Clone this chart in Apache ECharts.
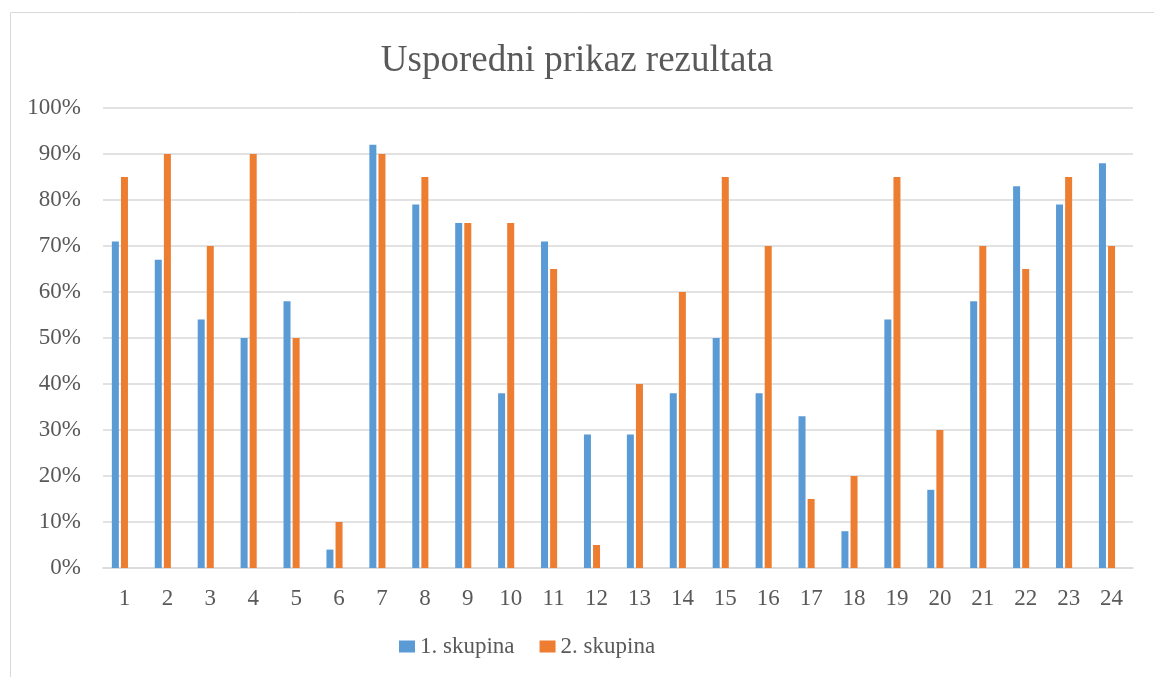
<!DOCTYPE html>
<html>
<head>
<meta charset="utf-8">
<script src="https://cdn.jsdelivr.net/npm/echarts@6/dist/echarts.min.js"></script>
<style>
  html, body { margin: 0; padding: 0; background: #fff; }
  #chart { width: 1154px; height: 677px; }
</style>
</head>
<body>
<div id="chart"></div>
<script>
// podaci
var categories = ['1','2','3','4','5','6','7','8','9','10','11','12','13','14','15','16','17','18','19','20','21','22','23','24'];
var skupina1 = [71, 67, 54, 50, 58, 4, 92, 79, 75, 38, 71, 29, 29, 38, 50, 38, 33, 8, 54, 17, 58, 83, 79, 88];
var skupina2 = [85, 90, 70, 90, 50, 10, 90, 85, 75, 75, 65, 5, 40, 60, 85, 70, 15, 20, 85, 30, 70, 65, 85, 70];
// prazna treca serija (u originalu ostavlja mjesto za jos jedan stupac)
var prazno = [null, null, null, null, null, null, null, null, null, null, null, null, null, null, null, null, null, null, null, null, null, null, null, null];
var seriesNames = ['1. skupina', '2. skupina'];

var mychart = echarts.init(document.getElementById('chart'));
var font = '"Liberation Serif", "Times New Roman", serif';

option = {
    color: ['#5b9bd5', '#ed7d31', '#a5a5a5'],
    animation: false,
    // okvir grafikona
    graphic: [{
        type: 'rect',
        shape: { x: 10.5, y: 12.5, width: 1160, height: 700 },
        style: { fill: 'none', stroke: '#d9d9d9', lineWidth: 1 }
    }],
    title: {
        text: 'Usporedni prikaz rezultata',
        left: 'center',
        top: 38,
        textStyle: { fontFamily: font, fontSize: 37, fontWeight: 'normal', color: '#595959' }
    },
    legend: {
        data: seriesNames,
        left: 394,
        top: 630,
        itemWidth: 16,
        itemHeight: 12,
        itemGap: 25,
        icon: 'rect',
        textStyle: { fontFamily: font, fontSize: 23, color: '#595959' }
    },
    grid: {
        left: 103,
        right: 21,
        top: 108,
        bottom: 109
    },
    xAxis: {
        type: 'category',
        data: categories,
        axisLine: { lineStyle: { color: '#d9d9d9', width: 1.5 } },
        axisTick: { show: false },
        axisLabel: { fontFamily: font, fontSize: 23, color: '#595959', margin: 19 }
    },
    yAxis: {
        type: 'value',
        min: 0,
        max: 100,
        interval: 10,
        axisLine: { show: false },
        axisTick: { show: false },
        axisLabel: { fontFamily: font, fontSize: 23, color: '#595959', margin: 22, formatter: '{value}%' },
        splitLine: { lineStyle: { color: '#d9d9d9', width: 1.5 } }
    },
    series: [
        {
            name: seriesNames[0],
            type: 'bar',
            data: skupina1,
            barWidth: 7,
            barGap: '30%'
        },
        {
            name: seriesNames[1],
            type: 'bar',
            data: skupina2,
            barWidth: 7,
            barGap: '30%'
        },
        {
            name: 'prazno',
            type: 'bar',
            data: prazno,
            barWidth: 7,
            barGap: '30%'
        }
    ]
};

mychart.setOption(option);
</script>
</body>
</html>
